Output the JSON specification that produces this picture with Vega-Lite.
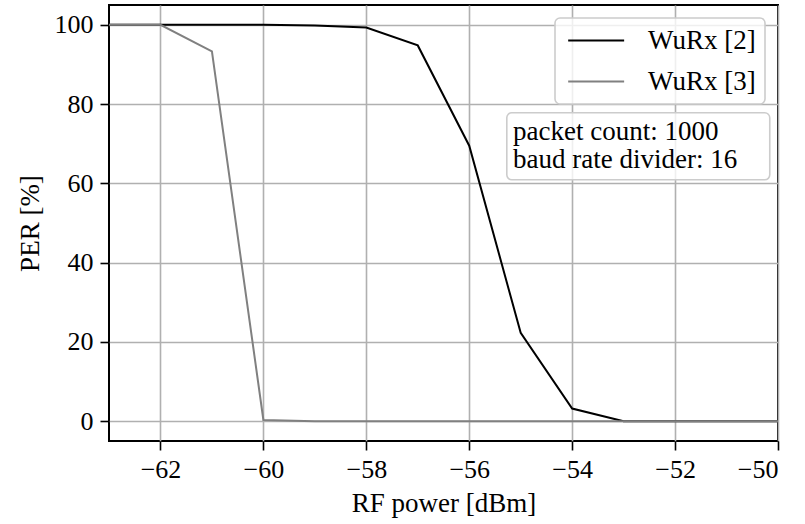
{
  "$schema": "https://vega.github.io/schema/vega-lite/v6.json",
  "width": 669,
  "height": 436,
  "autosize": {"type": "none"},
  "padding": {"left": 109, "top": 5, "right": 27, "bottom": 83},
  "config": {
    "font": "Liberation Serif",
    "view": {"stroke": "black", "strokeWidth": 2},
    "axis": {
      "domain": false,
      "labelFont": "Liberation Serif",
      "labelFontSize": 26,
      "labelColor": "black",
      "titleFont": "Liberation Serif",
      "titleFontSize": 27,
      "titleFontWeight": "normal",
      "titleColor": "black",
      "tickColor": "black",
      "tickWidth": 1.6,
      "tickSize": 9,
      "gridColor": "#b0b0b0",
      "gridWidth": 1.6,
      "gridOpacity": 1
    },
    "legend": {
      "orient": "top-right",
      "offset": 13,
      "padding": 9,
      "strokeColor": "#cccccc",
      "strokeWidth": 1.6,
      "cornerRadius": 5,
      "fillColor": "rgba(255,255,255,0.8)",
      "labelFont": "Liberation Serif",
      "labelFontSize": 27,
      "labelColor": "black",
      "symbolType": "M-1,0H5",
      "symbolSize": 348,
      "symbolStrokeWidth": 2,
      "labelOffset": 57,
      "rowPadding": 13
    }
  },
  "data": {
    "values": [
      {"power": -63, "per": 100, "series": "WuRx [2]"},
      {"power": -62, "per": 100, "series": "WuRx [2]"},
      {"power": -61, "per": 100, "series": "WuRx [2]"},
      {"power": -60, "per": 100, "series": "WuRx [2]"},
      {"power": -59, "per": 99.8, "series": "WuRx [2]"},
      {"power": -58, "per": 99.3, "series": "WuRx [2]"},
      {"power": -57, "per": 94.8, "series": "WuRx [2]"},
      {"power": -56, "per": 69.5, "series": "WuRx [2]"},
      {"power": -55, "per": 22.3, "series": "WuRx [2]"},
      {"power": -54, "per": 3.2, "series": "WuRx [2]"},
      {"power": -53, "per": 0, "series": "WuRx [2]"},
      {"power": -52, "per": 0, "series": "WuRx [2]"},
      {"power": -51, "per": 0, "series": "WuRx [2]"},
      {"power": -50, "per": 0, "series": "WuRx [2]"},
      {"power": -63, "per": 100, "series": "WuRx [3]"},
      {"power": -62, "per": 100, "series": "WuRx [3]"},
      {"power": -61, "per": 93.3, "series": "WuRx [3]"},
      {"power": -60, "per": 0.3, "series": "WuRx [3]"},
      {"power": -59, "per": 0, "series": "WuRx [3]"},
      {"power": -58, "per": 0, "series": "WuRx [3]"},
      {"power": -57, "per": 0, "series": "WuRx [3]"},
      {"power": -56, "per": 0, "series": "WuRx [3]"},
      {"power": -55, "per": 0, "series": "WuRx [3]"},
      {"power": -54, "per": 0, "series": "WuRx [3]"},
      {"power": -53, "per": 0, "series": "WuRx [3]"},
      {"power": -52, "per": 0, "series": "WuRx [3]"},
      {"power": -51, "per": 0, "series": "WuRx [3]"},
      {"power": -50, "per": 0, "series": "WuRx [3]"}
    ]
  },
  "layer": [
    {
      "mark": {"type": "line", "strokeWidth": 2, "clip": true},
      "encoding": {
        "x": {
          "field": "power",
          "type": "quantitative",
          "scale": {"domain": [-63, -50], "nice": false, "zero": false},
          "axis": {"values": [-62, -60, -58, -56, -54, -52, -50], "format": "d", "title": "RF power [dBm]", "labelPadding": 6, "titlePadding": 8}
        },
        "y": {
          "field": "per",
          "type": "quantitative",
          "scale": {"domain": [-5, 105], "nice": false, "zero": false},
          "axis": {"values": [0, 20, 40, 60, 80, 100], "format": "d", "title": "PER [%]", "labelPadding": 7, "titlePadding": 10}
        },
        "color": {
          "field": "series",
          "type": "nominal",
          "scale": {"domain": ["WuRx [2]", "WuRx [3]"], "range": ["#000000", "#808080"]},
          "legend": {"title": null}
        }
      }
    },
    {
      "data": {"values": [{}]},
      "mark": {"type": "rect", "fill": "white", "fillOpacity": 0.8, "stroke": "#cccccc", "strokeWidth": 1.6, "cornerRadius": 5},
      "encoding": {
        "x": {"datum": -55.27, "type": "quantitative"},
        "x2": {"datum": -50.16},
        "y": {"datum": 77.8, "type": "quantitative"},
        "y2": {"datum": 60.9}
      }
    },
    {
      "data": {"values": [{}]},
      "mark": {"type": "text", "align": "left", "baseline": "alphabetic", "fontSize": 27, "lineHeight": 28, "color": "black", "font": "Liberation Serif"},
      "encoding": {
        "x": {"datum": -55.15, "type": "quantitative"},
        "y": {"datum": 71, "type": "quantitative"},
        "text": {"value": ["packet count: 1000", "baud rate divider: 16"]}
      }
    }
  ]
}
